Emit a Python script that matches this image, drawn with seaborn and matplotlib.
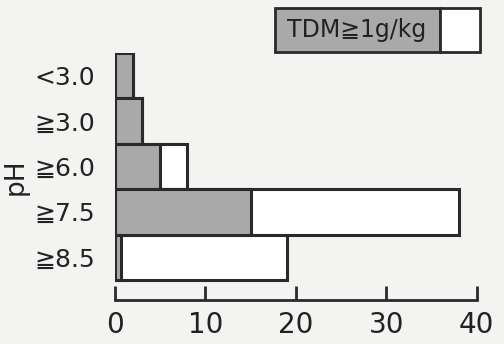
import matplotlib
matplotlib.use('Agg')
import pandas as pd
import seaborn as sns
import matplotlib.pyplot as plt
from matplotlib.patches import Rectangle

# data
ph_labels = ['<3.0', '≧3.0', '≧6.0', '≧7.5', '≧8.5']
total = [2, 3, 8, 38, 19]
tdm_high = [2, 3, 5, 15, 0.7]
xticks = [0, 10, 20, 30, 40]

sns.set_style('white')
plt.rcParams['font.family'] = ['DejaVu Sans', 'Noto Sans CJK JP']

df = pd.DataFrame({'pH': ph_labels, 'total': total, 'tdm': tdm_high})

bg = '#f3f3f1'
fig = plt.figure(figsize=(5.04, 3.44), dpi=100, facecolor=bg)
ax = fig.add_axes([0.228, 0.128, 0.718, 0.718])
ax.set_facecolor(bg)

sns.barplot(data=df, x='total', y='pH', color='white', edgecolor='#2a2a2a',
            linewidth=2.2, width=1.0, saturation=1, ax=ax)
sns.barplot(data=df, x='tdm', y='pH', color='#a9a9a9', edgecolor='#2a2a2a',
            linewidth=2.2, width=1.0, saturation=1, ax=ax)

ax.set_xlim(0, 40)
ax.set_ylim(4.94, -0.5)
ax.set_xticks(xticks)
ax.set_xticklabels([str(t) for t in xticks], fontsize=20, color='#222222')
ax.tick_params(axis='x', bottom=True, direction='in', length=10, width=2,
               color='#2a2a2a', pad=8)
ax.tick_params(axis='y', left=False, length=0, pad=14, labelsize=18,
               labelcolor='#222222')
for s in ['top', 'right', 'left']:
    ax.spines[s].set_visible(False)
ax.spines['bottom'].set_linewidth(2)
ax.spines['bottom'].set_color('#2a2a2a')
ax.set_xlabel('')
ax.set_ylabel('pH', fontsize=19, color='#222222', labelpad=4)

# legend box
fig.patches.append(Rectangle((275 / 504, 1 - 52 / 344), 165 / 504, 44 / 344,
                             transform=fig.transFigure, facecolor='#a9a9a9',
                             edgecolor='#2a2a2a', linewidth=2))
fig.patches.append(Rectangle((440 / 504, 1 - 52 / 344), 40 / 504, 44 / 344,
                             transform=fig.transFigure, facecolor='white',
                             edgecolor='#2a2a2a', linewidth=2))
fig.text(357 / 504, 1 - 30 / 344, 'TDM≧1g/kg', ha='center', va='center',
         fontsize=17, color='#222222')

fig.savefig('out.png', dpi=100, facecolor=bg)
